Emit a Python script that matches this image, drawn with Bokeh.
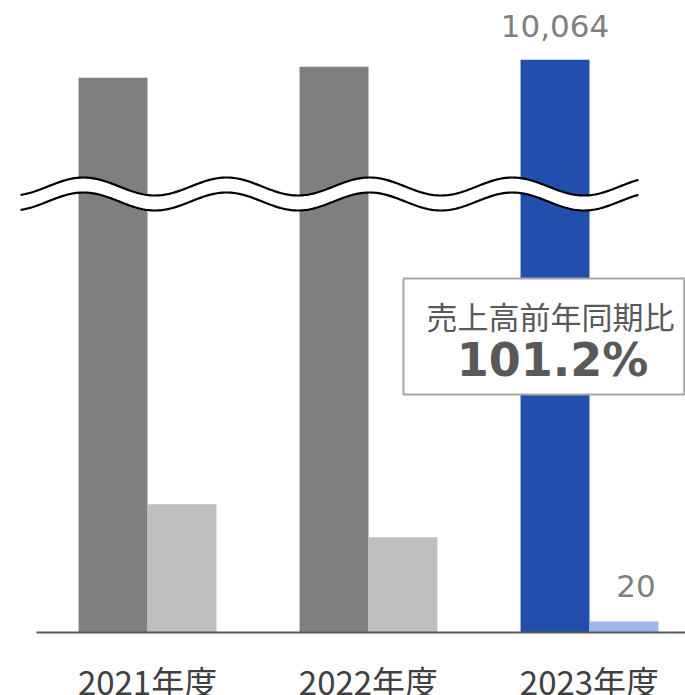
import numpy as np
from bokeh.plotting import figure
from bokeh.models import Range1d, ColumnDataSource, FixedTicker
from bokeh.core.properties import value
from bokeh.embed import file_html
from bokeh.resources import INLINE

# ---- data ----
categories = ["2021年度", "2022年度", "2023年度"]
main_sales = [9758, 9945, 10064]
sub_sales = [233, 173, 20]
main_colors = ["#7F7F7F", "#7F7F7F", "#224FAE"]
sub_colors = ["#BFBFBF", "#BFBFBF", "#9BB6EA"]
yoy_title = "売上高前年同期比"
yoy_value = "101.2%"

# ---- broken-axis scale (display units = px above baseline) ----
LOW_PX_PER_UNIT = 0.55
BREAK_VALUE = 1000
HIGH_ANCHOR_VALUE = 10000
HIGH_ANCHOR_PX = 569.0
HIGH_PX_PER_UNIT = 0.0588


def to_display(v):
    v = np.asarray(v, dtype=float)
    return np.where(v < BREAK_VALUE, v * LOW_PX_PER_UNIT,
                    HIGH_ANCHOR_PX + (v - HIGH_ANCHOR_VALUE) * HIGH_PX_PER_UNIT)


group_x = np.arange(1, len(categories) + 1, dtype=float)
BAR_W = 0.312
main_x = group_x - BAR_W / 2
sub_x = group_x + BAR_W / 2

p = figure(width=685, height=695, output_backend="svg", toolbar_location=None,
           x_range=Range1d(0.3348, 3.4344), y_range=Range1d(-63, 632),
           min_border=0, min_border_left=0, min_border_right=0,
           min_border_top=0, min_border_bottom=0)
p.outline_line_color = None
p.background_fill_color = "white"
p.border_fill_color = "white"
p.xgrid.visible = False
p.ygrid.visible = False
p.yaxis.visible = False

src_main = ColumnDataSource(dict(x=main_x, top=to_display(main_sales), color=main_colors))
src_sub = ColumnDataSource(dict(x=sub_x, top=to_display(sub_sales), color=sub_colors))
p.vbar(x="x", top="top", bottom=0, width=BAR_W, fill_color="color", line_color=None, source=src_main)
p.vbar(x="x", top="top", bottom=0, width=BAR_W, fill_color="color", line_color=None, source=src_sub)

# ---- wavy break band ----
wx = np.linspace(0.4253, 3.221, 400)
wy_top = 446 + 9 * np.cos(2 * np.pi * (wx - 0.7104) / 0.647)
wy_bot = wy_top - 15
p.varea(x=wx, y1=wy_bot, y2=wy_top, fill_color="white")
p.line(wx, wy_top, line_color="black", line_width=2.2)
p.line(wx, wy_bot, line_color="black", line_width=2.2)

# ---- value labels ----
lab_main = ColumnDataSource(dict(x=[main_x[2]], y=to_display([main_sales[2]]),
                                 t=[f"{main_sales[2]:,}"]))
p.text(x="x", y="y", text="t", source=lab_main, text_align="center",
       text_baseline="alphabetic", y_offset=-34, text_font=value("DejaVu Sans"),
       text_font_size="31px", text_color="#7F7F7F")
lab_sub = ColumnDataSource(dict(x=[sub_x[2]], y=to_display([sub_sales[2]]),
                                t=[f"{sub_sales[2]:,}"]))
p.text(x="x", y="y", text="t", source=lab_sub, text_align="center",
       text_baseline="alphabetic", y_offset=-36, x_offset=12, text_font=value("DejaVu Sans"),
       text_font_size="31px", text_color="#7F7F7F")

# ---- YoY box ----
p.quad(left=[2.158], right=[3.429], top=[354], bottom=[238], fill_color="white",
       line_color="#A6A6A6", line_width=2)
p.text(x=[2.8235], y=[317], text=[yoy_title], text_align="center", text_baseline="middle",
       text_font=value("Noto Sans CJK JP"), text_font_size="31px", text_color="#595959")
p.text(x=[2.8326], y=[273], text=[yoy_value], text_align="center", text_baseline="middle",
       text_font=value("DejaVu Sans"), text_font_style="bold", text_font_size="46px",
       text_color="#595959")

# ---- x axis ----
ax = p.xaxis[0]
ax.fixed_location = 0
ax.ticker = FixedTicker(ticks=list(group_x))
ax.major_label_overrides = {float(g): c for g, c in zip(group_x, categories)}
ax.major_label_overrides.update({int(g): c for g, c in zip(group_x, categories)})
ax.major_tick_out = 0
ax.major_tick_in = 0
ax.minor_tick_out = 0
ax.minor_tick_in = 0
ax.axis_line_color = "#595959"
ax.axis_line_width = 2
ax.bounds = (0.4977, 3.4344)
ax.major_label_standoff = 24
ax.major_label_text_font = "Noto Sans CJK JP"
ax.major_label_text_font_size = "33px"
ax.major_label_text_color = "#404040"

open("out.html", "w").write(file_html(p, INLINE))
